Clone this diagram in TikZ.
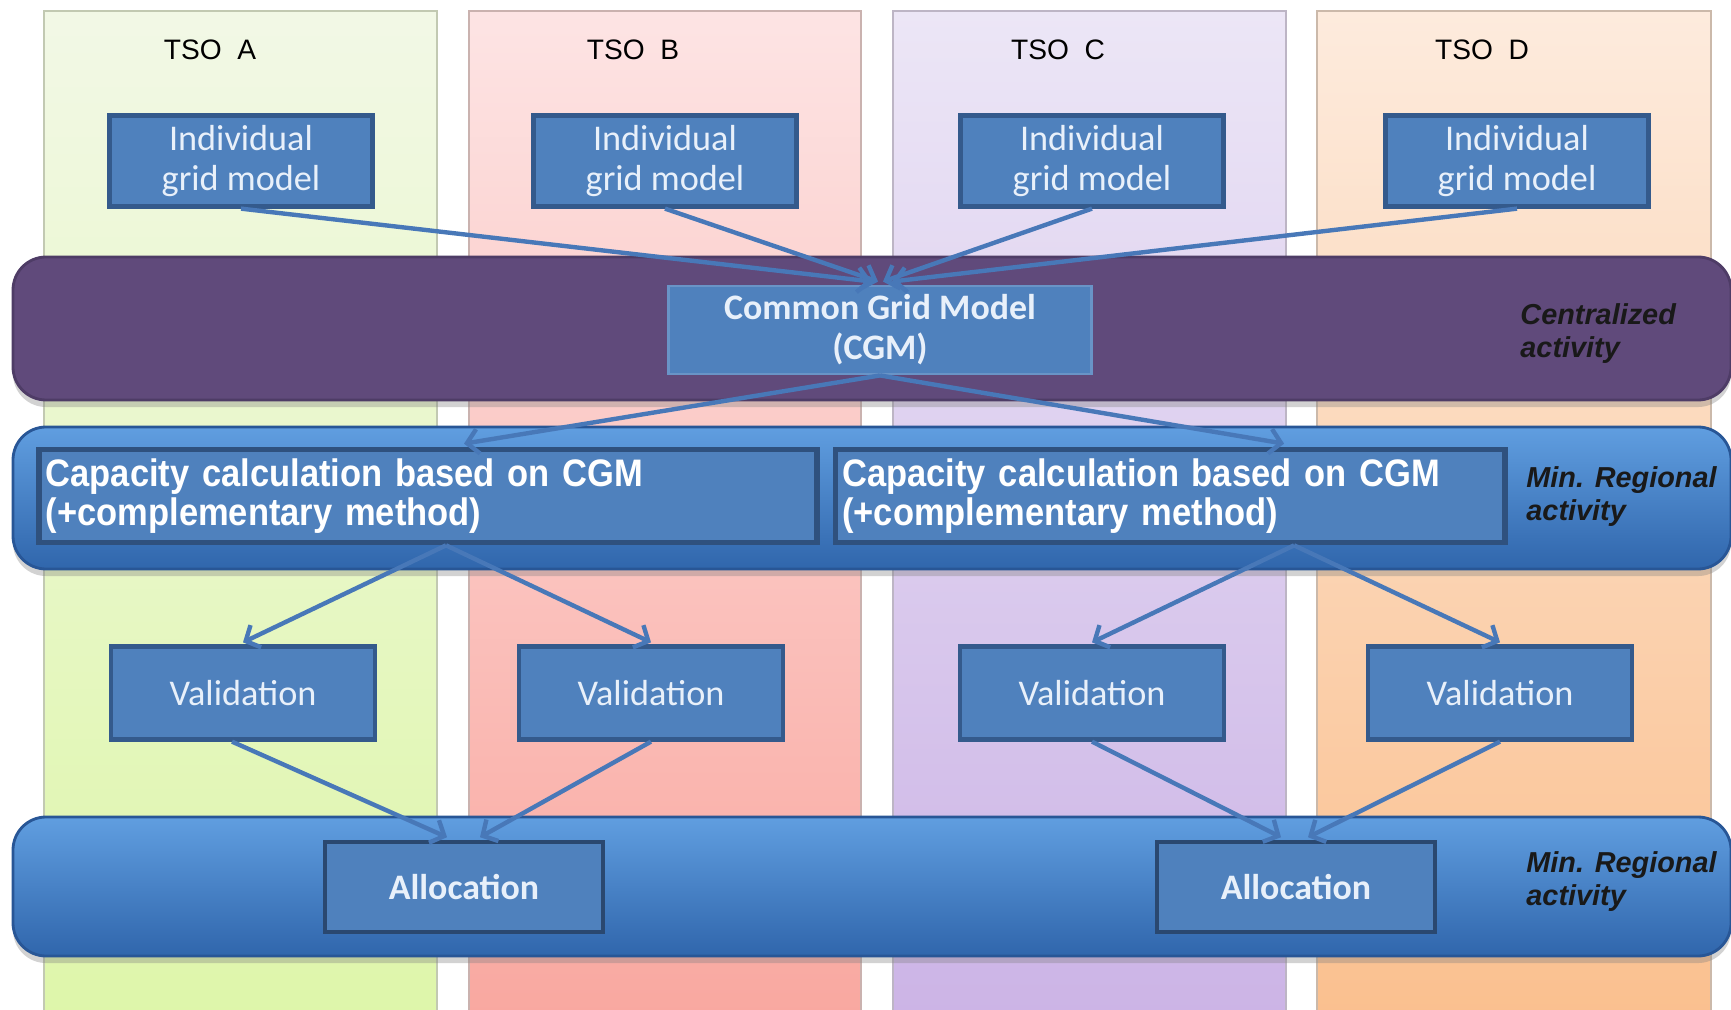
\documentclass[tikz,border=0pt]{standalone}
\usepackage{fontspec}
\setmainfont{Liberation Sans}
\newfontfamily\calibri{Carlito}
\newfontfamily\narrowsans[FakeStretch=0.9, WordSpace=0.8]{Liberation Sans}
\usetikzlibrary{arrows.meta,shadows}

\definecolor{boxblue}{RGB}{79,129,189}
\definecolor{boxedge}{RGB}{52,90,140}
\definecolor{boxtext}{RGB}{232,240,250}
\definecolor{flowblue}{RGB}{72,120,184}
\definecolor{purpleband}{RGB}{96,74,123}
\definecolor{purpleedge}{RGB}{78,60,102}
\definecolor{bandtop}{RGB}{96,158,224}
\definecolor{bandmid}{RGB}{62,124,200}
\definecolor{bandbot}{RGB}{48,102,172}
\definecolor{bandedge}{RGB}{40,86,150}
\definecolor{laneAtop}{RGB}{242,248,230}
\definecolor{laneAbot}{RGB}{222,246,170}
\definecolor{laneBtop}{RGB}{253,228,228}
\definecolor{laneBbot}{RGB}{249,168,160}
\definecolor{laneCtop}{RGB}{236,230,246}
\definecolor{laneCbot}{RGB}{204,180,230}
\definecolor{laneDtop}{RGB}{253,235,221}
\definecolor{laneDbot}{RGB}{250,192,143}

\begin{document}
\begin{tikzpicture}[x = 0.01cm, y = -0.01cm,
                    lane/.style = {draw = #1, line width = 0.4pt},
                    tso/.style = {font = \fontsize{8}{9.6}\selectfont, text = black},
                    band/.style = {rounded corners = 0.33cm,
                                   line width = 0.8pt,
                                   drop shadow = {opacity = 0.35, shadow xshift = 0pt, shadow yshift = -2pt}},
                    gbox/.style = {shape = rectangle,
                                   fill = boxblue,
                                   draw = boxedge,
                                   line width = 1.2pt,
                                   text = boxtext,
                                   inner sep = 0pt,
                                   align = center,
                                   minimum width = 2.63cm,
                                   minimum height = 0.91cm,
                                   font = \calibri\fontsize{10.3}{11.3}\selectfont},
                    bbox/.style = {gbox,
                                   font = \calibri\bfseries\fontsize{10.2}{11.3}\selectfont},
                    cbox/.style = {gbox,
                                   draw = boxedge!90!black,
                                   line width = 1.6pt,
                                   text = white,
                                   align = left,
                                   inner xsep = 0.07cm,
                                   minimum height = 0.93cm,
                                   font = \narrowsans\bfseries\fontsize{10.9}{11.3}\selectfont},
                    act/.style = {anchor = west, align = left, text = black!90,
                                  font = \bfseries\itshape\fontsize{8.2}{9.4}\selectfont},
                    flow/.style = {draw = flowblue, line width = 1.25pt,
                                   -{Straight Barb[length = 3.2pt, width = 7pt]}}]
  \useasboundingbox (0,0) rectangle (1731,1010);
  \fill[white] (0,0) rectangle (1731,1010);

  % TSO lanes
  \path[lane = laneAbot!60!black!50, top color = laneAtop, bottom color = laneAbot] (44,11) rectangle (437,1015);
  \path[lane = laneBbot!60!black!50, top color = laneBtop, bottom color = laneBbot] (469,11) rectangle (861,1015);
  \path[lane = laneCbot!60!black!50, top color = laneCtop, bottom color = laneCbot] (893,11) rectangle (1286,1015);
  \path[lane = laneDbot!60!black!50, top color = laneDtop, bottom color = laneDbot] (1317,11) rectangle (1711,1015);
  \node[tso] (tsoA) at (210,50) {TSO\ \ A};
  \node[tso] (tsoB) at (633,50) {TSO\ \ B};
  \node[tso] (tsoC) at (1058,50) {TSO\ \ C};
  \node[tso] (tsoD) at (1482,50) {TSO\ \ D};

  % activity bands
  \path[band, fill = purpleband, draw = purpleedge] (13,257) rectangle (1731,400);
  \path[band, draw = bandedge, top color = bandtop, middle color = bandmid, bottom color = bandbot] (13,427) rectangle (1731,569);
  \path[band, draw = bandedge, top color = bandtop, middle color = bandmid, bottom color = bandbot] (13,817) rectangle (1731,956);
  \node[act] (central) at (1508,334) {Centralized\\activity};
  \node[act] (region1) at (1514,497) {Min. Regional\\activity};
  \node[act] (region2) at (1514,882) {Min. Regional\\activity};

  % boxes
  \node[gbox] (igmA) at (241,161) {Individual\\grid model};
  \node[gbox] (igmB) at (665,161) {Individual\\grid model};
  \node[gbox] (igmC) at (1092,161) {Individual\\grid model};
  \node[gbox] (igmD) at (1517,161) {Individual\\grid model};
  \node[bbox, draw = boxblue!85!white, line width = 0.8pt, minimum width = 4.23cm, minimum height = 0.88cm] (cgm) at (880,330) {Common Grid Model\\(CGM)};
  \node[cbox, text width = 7.64cm, minimum width = 7.78cm] (capL) at (428,496) {Capacity calculation based on CGM\\(+complementary method)};
  \node[cbox, text width = 6.55cm, minimum width = 6.69cm] (capR) at (1170,496) {Capacity calculation based on CGM\\(+complementary method)};
  \node[gbox, minimum width = 2.64cm, minimum height = 0.93cm] (valA) at (243,693) {Validation};
  \node[gbox, minimum width = 2.64cm, minimum height = 0.93cm] (valB) at (651,693) {Validation};
  \node[gbox, minimum width = 2.64cm, minimum height = 0.93cm] (valC) at (1092,693) {Validation};
  \node[gbox, minimum width = 2.64cm, minimum height = 0.93cm] (valD) at (1500,693) {Validation};
  \node[bbox, draw = boxedge!80!black, line width = 1pt, minimum width = 2.78cm, minimum height = 0.9cm] (allocL) at (464,887) {Allocation};
  \node[bbox, draw = boxedge!80!black, line width = 1pt, minimum width = 2.78cm, minimum height = 0.9cm] (allocR) at (1296,887) {Allocation};

  % connectors
  \path (igmA.south) edge[flow] ([xshift = -0.08cm, yshift = 0.03cm]cgm.north);
  \path (igmB.south) edge[flow] ([xshift = -0.02cm, yshift = 0.03cm]cgm.north);
  \path (igmC.south) edge[flow] ([xshift = 0.03cm, yshift = 0.03cm]cgm.north);
  \path (igmD.south) edge[flow] ([xshift = 0.12cm, yshift = 0.03cm]cgm.north);
  \path (cgm.south) edge[flow] ([xshift = 0.36cm, yshift = 0.03cm]capL.north);
  \path (cgm.south) edge[flow] ([xshift = 1.14cm, yshift = 0.03cm]capR.north);
  \path ([xshift = 0.18cm]capL.south) edge[flow] ([yshift = 0.02cm]valA.north);
  \path ([xshift = 0.18cm]capL.south) edge[flow] ([yshift = 0.02cm]valB.north);
  \path ([xshift = 1.24cm]capR.south) edge[flow] ([yshift = 0.02cm]valC.north);
  \path ([xshift = 1.24cm]capR.south) edge[flow] ([yshift = 0.02cm]valD.north);
  \path ([xshift = -0.11cm]valA.south) edge[flow] ([xshift = -0.17cm, yshift = 0.03cm]allocL.north);
  \path (valB.south) edge[flow] ([xshift = 0.16cm, yshift = 0.03cm]allocL.north);
  \path (valC.south) edge[flow] ([xshift = -0.15cm, yshift = 0.03cm]allocR.north);
  \path (valD.south) edge[flow] ([xshift = 0.12cm, yshift = 0.03cm]allocR.north);
\end{tikzpicture}
\end{document}
